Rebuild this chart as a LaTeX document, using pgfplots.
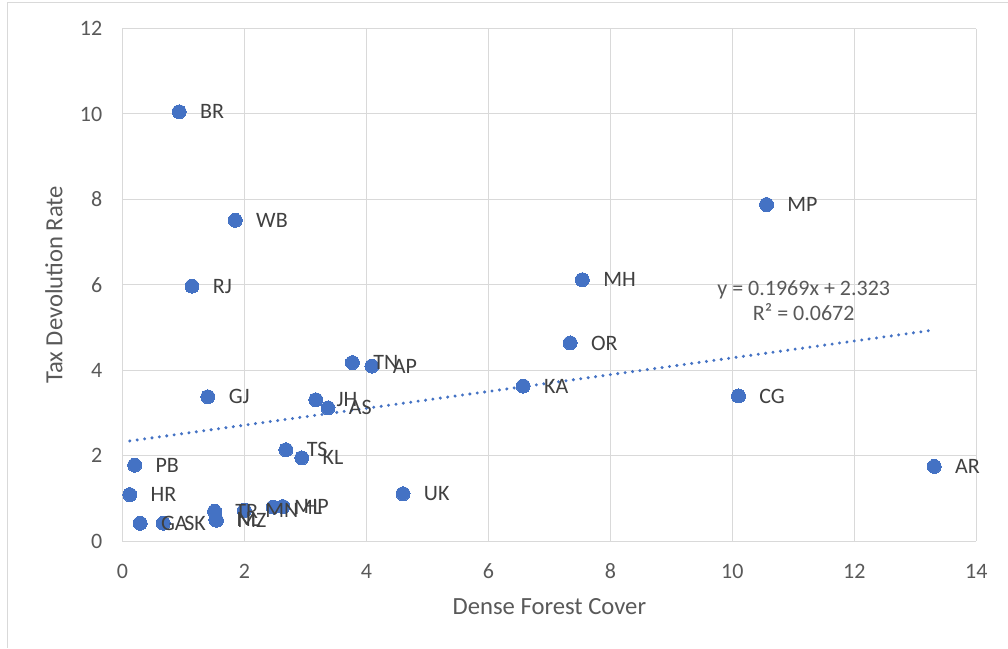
\documentclass[border=0pt]{standalone}
\usepackage{pgfplots}
\pgfplotsset{compat=1.18}
\usepackage{pgfplotstable}
\usepackage{fontspec}
\setmainfont{Carlito}

\definecolor{seriesblue}{HTML}{4472C4}
\definecolor{labelgray}{HTML}{595959}
\definecolor{datagray}{HTML}{404040}
\definecolor{gridgray}{HTML}{D9D9D9}

% Dense forest cover against tax devolution rate, one row per state
\pgfplotstableread{
state x     y
BR    0.93  10.05
WB    1.85  7.51
RJ    1.14  5.97
MP    10.56 7.88
MH    7.54  6.12
OR    7.34  4.64
TN    3.77  4.18
AP    4.09  4.10
KA    6.57  3.63
CG    10.10 3.40
GJ    1.40  3.38
JH    3.17  3.31
AS    3.37  3.12
TS    2.68  2.14
KL    2.94  1.95
PB    0.20  1.78
AR    13.31 1.75
HR    0.12  1.09
UK    4.60  1.11
TR    1.51  0.70
MN    2.00  0.72
ML    2.47  0.80
HP    2.63  0.81
NL    1.53  0.50
MZ    1.54  0.49
GA    0.29  0.42
SK    0.67  0.42
}\statedata

\begin{document}
\begin{tikzpicture}
% chart area
\fill[white] (0,0) rectangle (756pt,486pt);
\draw[gridgray, line width=0.75pt] (6pt,0) -- (6pt,483.75pt) -- (756pt,483.75pt);

\begin{axis}[
  at={(91.9pt,79.9pt)}, anchor=south west,
  scale only axis, width=640.7pt, height=384.7pt,
  xmin=0, xmax=14, ymin=0, ymax=12,
  xtick={0,2,...,14}, ytick={0,2,...,12},
  grid=major,
  major grid style={draw=gridgray, line width=0.75pt},
  axis line style={draw=none},
  tick style={draw=none},
  clip=false,
  /pgf/number format/assume math mode=true,
  tick label style={font=\fontsize{16.5}{19}\selectfont, text=labelgray},
  xticklabel style={anchor=center, inner sep=0pt, yshift=-22.5pt},
  yticklabel style={anchor=east, inner sep=0pt, xshift=-15pt},
  xlabel={Dense Forest Cover},
  ylabel={Tax Devolution Rate},
  label style={font=\fontsize{18.5}{22}\selectfont, text=labelgray},
  xlabel style={at={(axis description cs:0.5,-0.1267)}, anchor=center},
  ylabel style={at={(axis description cs:-0.0802,0.5)}, anchor=center},
]

% state markers
\addplot[only marks, mark=*, mark size=5.25pt,
  mark options={fill=seriesblue, draw=seriesblue, line width=0pt}]
  table[x=x, y=y] {\statedata};

% linear trendline y = 0.1969x + 2.323 over the range of the data
\addplot[seriesblue, line width=2.5pt, line cap=round,
  dash pattern=on 0pt off 5.6pt]
  coordinates {(0.12,2.3466) (13.31,4.9438)};

% state labels, drawn on top
\addplot[only marks, mark=none, nodes near coords,
  point meta=explicit symbolic,
  nodes near coords style={anchor=base west, inner sep=0pt,
    xshift=15.5pt, yshift=-5.3pt,
    font=\fontsize{16.5}{19}\selectfont, text=datagray}]
  table[x=x, y=y, meta=state] {\statedata};

\node[align=center, font=\fontsize{16.5}{19.5}\selectfont, text=labelgray]
  at (axis cs:11.17,5.63) {y = 0.1969x + 2.323\\R² = 0.0672};
\end{axis}
\end{tikzpicture}
\end{document}
